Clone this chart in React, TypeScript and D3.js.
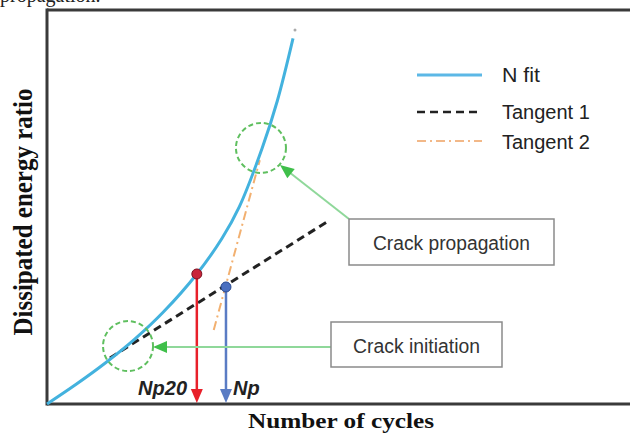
import React from "react";
import * as d3 from "d3";

// ---- data (arbitrary units: cycles 0..100, ratio 0..100) ----
const fitCycles = [0, 5, 10, 15, 20, 25.7, 30, 33, 36.9, 39.5, 42.2];
const fitRatio = [0, 5.0, 10.4, 16.4, 23.4, 33.0, 42.0, 50.1, 64.9, 76.9, 92.8];
const tangent1Cycles = [10.8, 48.0];
const tangent1Ratio = [11.7, 46.2];
const tangent2Cycles = [28.6, 36.5];
const tangent2Ratio = [18.8, 61.9];
const markerNames = ["Np20", "Np"];
const markerCycles = [25.7, 30.7];
const markerRatio = [33.0, 29.7];
const zoneNames = ["Crack initiation", "Crack propagation"];
const zoneCycles = [13.9, 36.7];
const zoneRatio = [14.7, 65.0];
const legendLabels = ["N fit", "Tangent 1", "Tangent 2"];

const W = 630;
const H = 437;
const X0 = 47, X1 = 630, Y0 = 404, Y1 = 10;

export default function App() {
  const x = d3.scaleLinear().domain([0, 100]).range([X0, X1]);
  const y = d3.scaleLinear().domain([0, 100]).range([Y0, Y1]);
  const line = d3.line<[number, number]>().x(d => x(d[0])).y(d => y(d[1]));
  const fitLine = d3.line<[number, number]>().x(d => x(d[0])).y(d => y(d[1])).curve(d3.curveCatmullRom.alpha(0.5));

  const fitPts = fitCycles.map((c, i) => [c, fitRatio[i]] as [number, number]);
  const t1 = tangent1Cycles.map((c, i) => [c, tangent1Ratio[i]] as [number, number]);
  const t2 = tangent2Cycles.map((c, i) => [c, tangent2Ratio[i]] as [number, number]);

  const curveColor = "#43b2de";
  const markerFill = ["#c8243a", "#4a6fc0"];
  const arrowColor = ["#e8202a", "#5a7cc4"];
  const green = "#8fd89a";
  const greenHead = "#3fbf4a";

  // boxes (layout)
  const propBox = { x: 349, y: 219, w: 205, h: 46 };
  const initBox = { x: 331, y: 322, w: 171, h: 45 };

  const arrowHead = (tipX: number, tipY: number, dx: number, dy: number, len: number, half: number) => {
    const n = Math.hypot(dx, dy);
    const ux = dx / n, uy = dy / n;
    const bx = tipX - ux * len, by = tipY - uy * len;
    const px = -uy, py = ux;
    return `M${tipX},${tipY}L${bx + px * half},${by + py * half}L${bx - px * half},${by - py * half}Z`;
  };

  const propTip = [280, 165];
  const propStart = [349, 219];
  const initTip = [153, 347];

  return (
    <svg width={W} height={H} style={{ position: "absolute", left: 0, top: 0, background: "#fff" }}
      xmlns="http://www.w3.org/2000/svg">
      <rect width={W} height={H} fill="#fff" />
      {/* cut-off caption text at the very top */}
      <text x={0} y={2} fontFamily="Liberation Serif, Times New Roman, serif" fontSize={20} fill="#222">propagation.</text>

      {/* frame */}
      <line x1={X0} y1={Y1} x2={X1} y2={Y1} stroke="#3a3a3a" strokeWidth={3} />
      <line x1={X0} y1={Y1 - 1.5} x2={X0} y2={Y0 + 1.5} stroke="#3a3a3a" strokeWidth={3} />
      <line x1={X0} y1={Y0} x2={X1} y2={Y0} stroke="#3a3a3a" strokeWidth={3} />

      {/* tangent 2 */}
      <path d={line(t2) || ""} fill="none" stroke="#f2b070" strokeWidth={2} strokeDasharray="9,4,2,4" />
      {/* tangent 1 */}
      <path d={line(t1) || ""} fill="none" stroke="#222" strokeWidth={3} strokeDasharray="8,5" />
      {/* fitted curve */}
      <path d={fitLine(fitPts) || ""} fill="none" stroke={curveColor} strokeWidth={3} />
      <circle cx={295} cy={30} r={1.5} fill="#aaa" />

      {/* dashed circles */}
      {zoneNames.map((n, i) => (
        <circle key={n} cx={x(zoneCycles[i])} cy={y(zoneRatio[i])} r={25} fill="none"
          stroke="#5fbf5f" strokeWidth={2} strokeDasharray="5,3" />
      ))}

      {/* vertical arrows */}
      {markerNames.map((n, i) => (
        <g key={n}>
          <line x1={x(markerCycles[i])} y1={y(markerRatio[i])} x2={x(markerCycles[i])} y2={Y0 - 12}
            stroke={arrowColor[i]} strokeWidth={2.5} />
          <path d={arrowHead(x(markerCycles[i]), Y0 - 1, 0, 1, 14, 6)} fill={arrowColor[i]} />
          <circle cx={x(markerCycles[i])} cy={y(markerRatio[i])} r={5} fill={markerFill[i]}
            stroke={i === 0 ? "#7a1020" : "#2a4a90"} strokeWidth={1} />
        </g>
      ))}
      <text x={187} y={395} textAnchor="end" fontFamily="Liberation Sans, Arial, sans-serif" fontSize={20}
        fontWeight="bold" fontStyle="italic" fill="#222">{markerNames[0]}</text>
      <text x={233} y={395} fontFamily="Liberation Sans, Arial, sans-serif" fontSize={20}
        fontWeight="bold" fontStyle="italic" fill="#222">{markerNames[1]}</text>

      {/* green annotation arrows */}
      <line x1={propStart[0]} y1={propStart[1]} x2={propTip[0] + 9} y2={propTip[1] + 7} stroke={green} strokeWidth={2} />
      <path d={arrowHead(propTip[0], propTip[1], propTip[0] - propStart[0], propTip[1] - propStart[1], 14, 6)} fill={greenHead} />
      <line x1={initBox.x} y1={initTip[1]} x2={initTip[0] + 12} y2={initTip[1]} stroke={green} strokeWidth={2} />
      <path d={arrowHead(initTip[0], initTip[1], -1, 0, 14, 6)} fill={greenHead} />

      {/* boxes */}
      <rect x={propBox.x} y={propBox.y} width={propBox.w} height={propBox.h} fill="#fff" stroke="#8a8a8a" strokeWidth={1.5} />
      <text x={propBox.x + propBox.w / 2} y={250} textAnchor="middle" fontFamily="Liberation Sans, Arial, sans-serif"
        fontSize={20} textLength={157} lengthAdjust="spacingAndGlyphs" fill="#333">{zoneNames[1]}</text>
      <rect x={initBox.x} y={initBox.y} width={initBox.w} height={initBox.h} fill="#fff" stroke="#8a8a8a" strokeWidth={1.5} />
      <text x={initBox.x + initBox.w / 2} y={353} textAnchor="middle" fontFamily="Liberation Sans, Arial, sans-serif"
        fontSize={20} textLength={127} lengthAdjust="spacingAndGlyphs" fill="#333">{zoneNames[0]}</text>

      {/* legend */}
      <g fontFamily="Liberation Sans, Arial, sans-serif" fontSize={20} fill="#222">
        <line x1={417} y1={75} x2={482} y2={75} stroke="#5cb8e6" strokeWidth={3} />
        <text x={502} y={82} textLength={38} lengthAdjust="spacingAndGlyphs">{legendLabels[0]}</text>
        <line x1={417} y1={112} x2={482} y2={112} stroke="#222" strokeWidth={2.5} strokeDasharray="8,5" />
        <text x={502} y={119}>{legendLabels[1]}</text>
        <line x1={417} y1={141} x2={482} y2={141} stroke="#f2b888" strokeWidth={2} strokeDasharray="9,4,2,4" />
        <text x={502} y={149}>{legendLabels[2]}</text>
      </g>

      {/* axis titles */}
      <text x={341} y={428} textAnchor="middle" fontFamily="Liberation Serif, Times New Roman, serif" fontSize={21}
        fontWeight="bold" textLength={186} lengthAdjust="spacingAndGlyphs" fill="#111">Number of cycles</text>
      <text transform="translate(32,212) rotate(-90)" textAnchor="middle" fontFamily="Liberation Serif, Times New Roman, serif"
        fontSize={27} fontWeight="bold" textLength={247} lengthAdjust="spacingAndGlyphs" fill="#111">Dissipated energy ratio</text>
    </svg>
  );
}
